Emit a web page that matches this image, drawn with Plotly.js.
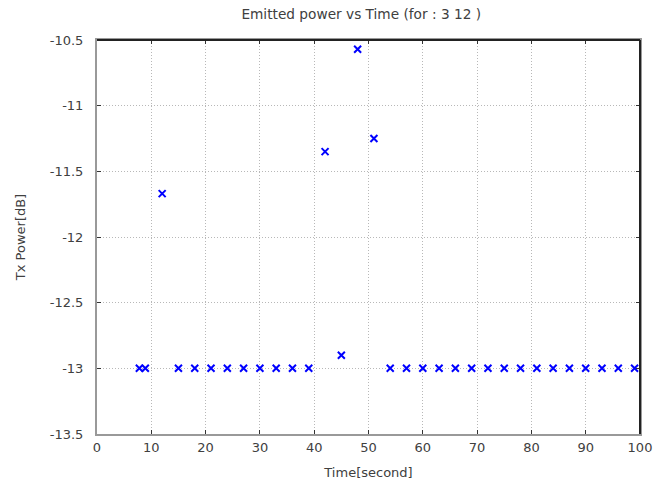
<!DOCTYPE html>
<html>
<head>
<meta charset="utf-8">
<script src="https://cdn.plot.ly/plotly-3.0.1.min.js"></script>
<style>html,body{margin:0;padding:0;background:#fff;}#chart{width:669px;height:483px;}</style>
</head>
<body>
<div id="chart"></div>
<script>
var timeSeconds = [7.8, 8.9, 12, 15, 18, 21, 24, 27, 30, 33, 36, 39, 42, 45, 48, 51, 54, 57, 60, 63, 66, 69, 72, 75, 78, 81, 84, 87, 90, 93, 96, 99];
var txPowerDb = [-13, -13, -11.67, -13, -13, -13, -13, -13, -13, -13, -13, -13, -11.35, -12.9, -10.57, -11.25, -13, -13, -13, -13, -13, -13, -13, -13, -13, -13, -13, -13, -13, -13, -13, -13];
var yTickValues = [-13.5, -13, -12.5, -12, -11.5, -11, -10.5];
var yTickLabels = ["-13.5", "-13", "-12.5", "-12", "-11.5", "-11", "-10.5"];
var chartTitle = "Emitted power vs Time (for : 3 12 )";
var xTitle = "Time[second]";
var yTitle = "Tx Power[dB]";

var font = {family: "DejaVu Sans", size: 13, color: "#404040"};

var trace = {
  x: timeSeconds,
  y: txPowerDb,
  type: "scatter",
  mode: "markers",
  marker: {symbol: "x-thin", size: 7, color: "#0000ff", line: {color: "#0000ff", width: 2}},
  hoverinfo: "x+y"
};

var layout = {
  width: 669,
  height: 483,
  margin: {l: 97, r: 29, t: 40, b: 49, pad: 0},
  paper_bgcolor: "#ffffff",
  plot_bgcolor: "#ffffff",
  showlegend: false,
  font: font,
  title: {text: chartTitle, font: {family: "DejaVu Sans", size: 13.7, color: "#404040"}, x: 0.54, xanchor: "center", y: 0.97, yanchor: "middle"},
  xaxis: {
    range: [0, 100], dtick: 10, tick0: 0,
    showline: true, linecolor: "#999999", linewidth: 2,
    mirror: "allticks",
    ticks: "inside", ticklen: 4, tickcolor: "#333333", tickwidth: 1,
    showgrid: true, gridcolor: "#b8b8b8", griddash: "1px,2px", gridwidth: 1,
    zeroline: false,
    tickfont: font,
    title: {text: xTitle, font: font, standoff: 14},
    automargin: false
  },
  yaxis: {
    range: [-13.5, -10.5],
    tickmode: "array", tickvals: yTickValues, ticktext: yTickLabels,
    showline: true, linecolor: "#999999", linewidth: 2,
    mirror: "allticks",
    ticks: "inside", ticklen: 4, tickcolor: "#333333", tickwidth: 1,
    ticklabelstandoff: 9,
    showgrid: true, gridcolor: "#b8b8b8", griddash: "1px,2px", gridwidth: 1,
    zeroline: false,
    tickfont: font,
    title: {text: yTitle, font: font, standoff: 21},
    automargin: false
  },
  shapes: [
    {type: "line", layer: "above", xref: "paper", yref: "paper", x0: 0, x1: 1, y0: 1, y1: 1, line: {color: "#222222", width: 2}},
    {type: "line", layer: "above", xref: "paper", yref: "paper", x0: 1, x1: 1, y0: 0, y1: 1, line: {color: "#222222", width: 2}}
  ]
};

Plotly.newPlot("chart", [trace], layout, {displayModeBar: false, staticPlot: true});
</script>
</body>
</html>
